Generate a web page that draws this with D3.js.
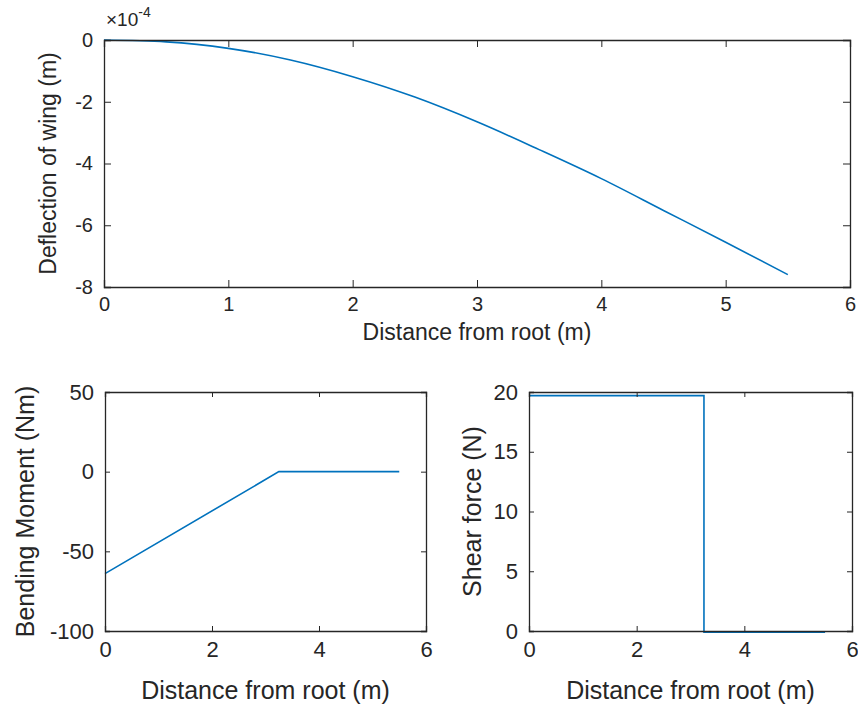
<!DOCTYPE html>
<html>
<head>
<meta charset="utf-8">
<script src="https://cdn.jsdelivr.net/npm/d3@7"></script>
<style>
  html, body { margin: 0; padding: 0; background: #fff; }
  svg { display: block; font-family: "Liberation Sans", Arial, Helvetica, sans-serif; }
</style>
</head>
<body>
<div id="chart"></div>
<script>
// Deflection / bending moment / shear force of wing, MATLAB-like subplots

// --- Data ---
var deflX = [0, 0.5, 1, 1.5, 2, 2.5, 3, 3.5, 4, 4.5, 5, 5.5];
var deflY = [0, -0.06, -0.27, -0.65, -1.19, -1.85, -2.65, -3.55, -4.49, -5.52, -6.55, -7.6]; // x 1e-4 m

var momentX = [0, 3.25, 5.5];
var momentY = [-64, 0, 0];

var shearX = [0, 3.25, 3.25, 5.5];
var shearY = [19.7, 19.7, -0.1, -0.1];

var xTicksTop = [0, 1, 2, 3, 4, 5, 6];
var yTicksTop = [0, -2, -4, -6, -8];
var xTicksBottom = [0, 2, 4, 6];
var yTicksMoment = [50, 0, -50, -100];
var yTicksShear = [0, 5, 10, 15, 20];

var xLabel = 'Distance from root (m)';

var W = 858, H = 709;
var lineColor = '#0072BD';
var axisColor = '#262626';
var fontStack = '"Liberation Sans", Arial, Helvetica, sans-serif';

var svg = d3.select('#chart').append('svg')
    .attr('width', W)
    .attr('height', H);

function drawPanel(p) {
    var x = d3.scaleLinear().domain(p.xDomain).range([p.left, p.right]);
    var y = d3.scaleLinear().domain(p.yDomain).range([p.bottom, p.top]);
    var g = svg.append('g');

    // data line
    var pts = p.xs.map(function (v, i) { return [v, p.ys[i]]; });
    var line = d3.line()
        .x(function (d) { return x(d[0]); })
        .y(function (d) { return y(d[1]); })
        .curve(p.smooth ? d3.curveMonotoneX : d3.curveLinear);
    g.append('path')
        .datum(pts)
        .attr('d', line)
        .attr('fill', 'none')
        .attr('stroke', lineColor)
        .attr('stroke-width', 1.6);

    // axes (ticks inside, mirrored on top/right)
    var tl = p.tickLen;
    var fmt = function (d) { return d3.format('d')(d).replace('\u2212', '-'); };
    var xAxis = d3.axisBottom(x).tickValues(p.xTicks).tickSize(-tl).tickPadding(p.xPad).tickFormat(fmt);
    var xAxisTop = d3.axisTop(x).tickValues(p.xTicks).tickSize(-tl).tickFormat('');
    var yAxis = d3.axisLeft(y).tickValues(p.yTicks).tickSize(-tl).tickPadding(p.yPad).tickFormat(fmt);
    var yAxisRight = d3.axisRight(y).tickValues(p.yTicks).tickSize(-tl).tickFormat('');

    var gx = g.append('g').attr('transform', 'translate(0,' + p.bottom + ')').call(xAxis);
    var gxt = g.append('g').attr('transform', 'translate(0,' + p.top + ')').call(xAxisTop);
    var gy = g.append('g').attr('transform', 'translate(' + p.left + ',0)').call(yAxis);
    var gyr = g.append('g').attr('transform', 'translate(' + p.right + ',0)').call(yAxisRight);

    [gx, gxt, gy, gyr].forEach(function (a) {
        a.attr('font-family', fontStack).attr('font-size', p.tickFont);
        a.selectAll('path.domain').attr('stroke', axisColor).attr('stroke-width', 1.3);
        a.selectAll('.tick line').attr('stroke', axisColor).attr('stroke-width', 1);
        a.selectAll('.tick text').attr('fill', axisColor);
    });

    // axis labels
    g.append('text')
        .attr('x', (p.left + p.right) / 2)
        .attr('y', p.xLabelY)
        .attr('text-anchor', 'middle')
        .attr('font-size', p.labelFont + 'px')
        .attr('fill', axisColor)
        .text(xLabel);

    g.append('text')
        .attr('transform', 'translate(' + p.yLabelX + ',' + ((p.top + p.bottom) / 2) + ') rotate(-90)')
        .attr('text-anchor', 'middle')
        .attr('dominant-baseline', 'central')
        .attr('font-size', p.labelFont + 'px')
        .attr('fill', axisColor)
        .text(p.yLabel);

    return g;
}

// Top: deflection
var topPanel = drawPanel({
    left: 104, right: 850, top: 40, bottom: 287,
    xDomain: [0, 6], yDomain: [-8, 0],
    xs: deflX, ys: deflY, smooth: true,
    xTicks: xTicksTop, yTicks: yTicksTop,
    tickLen: 7, tickFont: 20, labelFont: 23,
    xPad: 10, yPad: 11,
    xLabelY: 340, yLabelX: 48,
    yLabel: 'Deflection of wing (m)'
});

// exponent marker
var expo = topPanel.append('text')
    .attr('x', 106)
    .attr('y', 26)
    .attr('font-size', '19px')
    .attr('fill', axisColor);
expo.append('tspan').text('\u00d710');
expo.append('tspan').attr('dy', -9).attr('font-size', '14px').text('-4');

// Bottom left: bending moment
drawPanel({
    left: 105, right: 426, top: 392, bottom: 631,
    xDomain: [0, 6], yDomain: [-100, 50],
    xs: momentX, ys: momentY, smooth: false,
    xTicks: xTicksBottom, yTicks: yTicksMoment,
    tickLen: 5, tickFont: 22, labelFont: 25,
    xPad: 10, yPad: 11,
    xLabelY: 699, yLabelX: 25,
    yLabel: 'Bending Moment (Nm)'
});

// Bottom right: shear force
drawPanel({
    left: 529, right: 852, top: 392, bottom: 631,
    xDomain: [0, 6], yDomain: [0, 20],
    xs: shearX, ys: shearY, smooth: false,
    xTicks: xTicksBottom, yTicks: yTicksShear,
    tickLen: 5, tickFont: 22, labelFont: 25,
    xPad: 10, yPad: 11,
    xLabelY: 699, yLabelX: 472,
    yLabel: 'Shear force (N)'
});
</script>
</body>
</html>
